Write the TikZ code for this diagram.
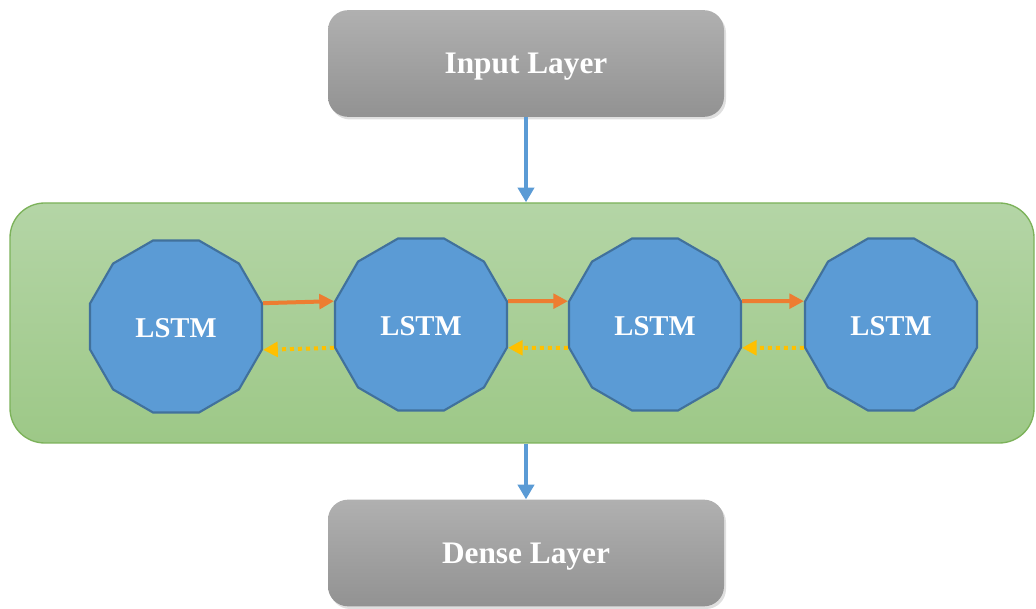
\documentclass[tikz,border=0pt]{standalone}
\usepackage{fontspec}
\setmainfont{Liberation Serif}
\usetikzlibrary{shapes.geometric,arrows.meta,shadows}
\definecolor{lstmfill}{HTML}{5B9BD5}
\definecolor{lstmdraw}{HTML}{41719C}
\definecolor{greentop}{HTML}{B4D5A6}
\definecolor{greenbot}{HTML}{9DC887}
\definecolor{greendraw}{HTML}{7CB25A}
\definecolor{graytop}{HTML}{B0B0B0}
\definecolor{graybot}{HTML}{929292}
\definecolor{fwdcol}{HTML}{ED7D31}
\definecolor{bwdcol}{HTML}{FFC000}
\definecolor{flowcol}{HTML}{5B9BD5}
\tikzset{
  layerbox/.style={rectangle, rounded corners=15pt, top color=graytop, bottom color=graybot,
    draw=none, minimum width=297pt, minimum height=80pt, text=white,
    text height=15.6pt, text depth=0pt,
    font=\bfseries\fontsize{23.5}{26}\selectfont,
    drop shadow={opacity=0.25, shadow xshift=1.5pt, shadow yshift=-2pt}},
  groupbox/.style={rectangle, rounded corners=26pt, top color=greentop, bottom color=greenbot,
    draw=greendraw, line width=1pt, minimum width=768pt, minimum height=180pt},
  lstmcell/.style={regular polygon, regular polygon sides=12, minimum size=133.5pt, inner sep=0pt,
    fill=lstmfill, draw=lstmdraw, line width=1.6pt, text=white,
    text height=16.5pt, text depth=0pt,
    font=\bfseries\fontsize{21.5}{24}\selectfont},
  flowarrow/.style={draw=flowcol, line width=3pt, -{Triangle[length=11pt,width=12pt]}},
  fwdarrow/.style={draw=fwdcol, line width=3pt, -{Triangle[length=11pt,width=11pt]}},
  bwdarrow/.style={draw=bwdcol, line width=3pt, dash pattern=on 3pt off 3pt, -{Triangle[length=11pt,width=11pt]}},
}
\begin{document}
\begin{tikzpicture}[x=0.75pt, y=-0.75pt]
\useasboundingbox (0,0) rectangle (1036,609);
\node[groupbox] (grp) at (522,323) {};
\node[layerbox] (inp) at (526,63.5) {Input Layer};
\node[layerbox] (dense) at (526,553) {Dense Layer};
\node[lstmcell] (n1) at (176,326.5) {LSTM};
\node[lstmcell] (n2) at (421,324.5) {LSTM};
\node[lstmcell] (n3) at (655,324.5) {LSTM};
\node[lstmcell] (n4) at (891,324.5) {LSTM};
\draw[flowarrow] (inp.south) -- (grp.north -| inp.south);
\draw[flowarrow] (grp.south -| dense.north) -- (dense.north);
\draw[fwdarrow] (n1.15) -- (n2.165);
\draw[fwdarrow] (n2.15) -- (n3.165);
\draw[fwdarrow] (n3.15) -- (n4.165);
\draw[bwdarrow] (n2.195) -- (n1.-15);
\draw[bwdarrow] (n3.195) -- (n2.-15);
\draw[bwdarrow] (n4.195) -- (n3.-15);
\end{tikzpicture}
\end{document}
